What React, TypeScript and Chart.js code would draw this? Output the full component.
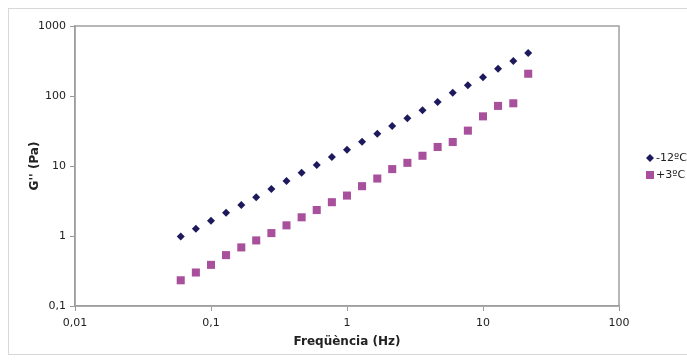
import React, { useEffect, useRef } from "react";
import { Chart, registerables } from "chart.js";

Chart.register(...registerables);

const frequencies = [
  0.0599, 0.0774, 0.1, 0.129, 0.167, 0.215, 0.278, 0.359, 0.464, 0.599, 0.774, 1,
  1.29, 1.67, 2.15, 2.78, 3.59, 4.64, 5.99, 7.74, 10, 12.9, 16.7, 21.5,
];
const seriesMinus12 = [
  0.98, 1.27, 1.65, 2.15, 2.78, 3.58, 4.71, 6.13, 7.98, 10.3, 13.4, 17.1,
  22.2, 28.9, 37.3, 48, 62.5, 82.4, 111, 143, 186, 245, 315, 410,
];
const seriesPlus3 = [
  0.233, 0.301, 0.387, 0.533, 0.687, 0.865, 1.1, 1.42, 1.85, 2.35, 3.04, 3.78,
  5.15, 6.62, 9.03, 11.1, 14.0, 18.7, 22.0, 32.0, 51.2, 72.2, 78.7, 208,
];
const seriesLabels = ["-12ºC", "+3ºC"];
const xTicks = [0.01, 0.1, 1, 10, 100];
const yTicks = [0.1, 1, 10, 100, 1000];

const fmt = (v: number) => String(v).replace(".", ",");

const FONT = "'DejaVu Sans', Verdana, sans-serif";
const NAVY = "#1c1a5c";
const MAGENTA = "#a9509c";

export default function App() {
  const ref = useRef<HTMLCanvasElement | null>(null);

  useEffect(() => {
    if (!ref.current) return;
    const framePlugin = {
      id: "frame",
      beforeDraw(chart: any) {
        const ctx = chart.ctx;
        ctx.save();
        ctx.fillStyle = "#ffffff";
        ctx.fillRect(0, 0, chart.width, chart.height);
        ctx.strokeStyle = "#d8d8d8";
        ctx.lineWidth = 1;
        ctx.strokeRect(8.5, 8.5, chart.width + 5, chart.height - 15);
        ctx.restore();
      },
      afterDraw(chart: any) {
        const { ctx, chartArea: a } = chart;
        ctx.save();
        ctx.strokeStyle = "#a0a0a0";
        ctx.lineWidth = 1.5;
        ctx.strokeRect(a.left, a.top, a.right - a.left, a.bottom - a.top);
        ctx.font = `11px ${FONT}`;
        ctx.textBaseline = "middle";
        // legend item 1: diamond
        let y = 158;
        ctx.fillStyle = NAVY;
        ctx.beginPath();
        ctx.moveTo(650, y - 4);
        ctx.lineTo(654, y);
        ctx.lineTo(650, y + 4);
        ctx.lineTo(646, y);
        ctx.closePath();
        ctx.fill();
        ctx.fillStyle = "#222";
        ctx.fillText(seriesLabels[0], 656, y);
        // legend item 2: square
        y = 175;
        ctx.fillStyle = MAGENTA;
        ctx.fillRect(646, y - 4, 8, 8);
        ctx.fillStyle = "#222";
        ctx.fillText(seriesLabels[1], 656, y);
        ctx.restore();
      },
    };

    const chart = new Chart(ref.current, {
      type: "scatter",
      data: {
        datasets: [
          {
            label: seriesLabels[0],
            data: frequencies.map((x, i) => ({ x, y: seriesMinus12[i] })),
            pointStyle: "rectRot",
            pointRadius: 4,
            backgroundColor: NAVY,
            borderColor: NAVY,
            borderWidth: 0,
          },
          {
            label: seriesLabels[1],
            data: frequencies.map((x, i) => ({ x, y: seriesPlus3[i] })),
            pointStyle: "rect",
            pointRadius: 5.7,
            backgroundColor: MAGENTA,
            borderColor: MAGENTA,
            borderWidth: 0,
          },
        ],
      },
      options: {
        animation: false,
        responsive: false,
        layout: { padding: { top: 26, right: 68, left: 0, bottom: 0 } },
        plugins: { legend: { display: false }, tooltip: { enabled: false } },
        scales: {
          x: {
            type: "logarithmic",
            min: 0.01,
            max: 100,
            afterBuildTicks: (s: any) => {
              s.ticks = xTicks.map((v) => ({ value: v }));
            },
            afterFit: (s: any) => {
              s.height = 55;
            },
            ticks: {
              callback: (v: any) => fmt(Number(v)),
              font: { family: FONT, size: 11 },
              color: "#222",
              padding: 6,
              maxRotation: 0,
              autoSkip: false,
            },
            grid: { drawOnChartArea: false, drawTicks: true, tickLength: 5, color: "#999" },
            border: { display: true, color: "#999", width: 1.5 },
            title: {
              display: true,
              text: "Freqüència (Hz)",
              font: { family: FONT, size: 12, weight: "bold" },
              color: "#222",
              padding: { top: 0, bottom: 12 },
            },
          },
          y: {
            type: "logarithmic",
            min: 0.1,
            max: 1000,
            afterBuildTicks: (s: any) => {
              s.ticks = yTicks.map((v) => ({ value: v }));
            },
            afterFit: (s: any) => {
              s.width = 75;
            },
            ticks: {
              callback: (v: any) => fmt(Number(v)),
              font: { family: FONT, size: 11 },
              color: "#222",
              padding: 4,
              autoSkip: false,
            },
            grid: { drawOnChartArea: false, drawTicks: true, tickLength: 5, color: "#999" },
            border: { display: true, color: "#999", width: 1.5 },
            title: {
              display: true,
              text: "G'' (Pa)",
              font: { family: FONT, size: 12, weight: "bold" },
              color: "#222",
              padding: { top: 28, bottom: 0 },
            },
          },
        },
      },
      plugins: [framePlugin],
    } as any);
    return () => chart.destroy();
  }, []);

  return (
    <div style={{ position: "fixed", left: 0, top: 0, width: 687, height: 361, background: "#fff" }}>
      <canvas ref={ref} width={687} height={361} style={{ display: "block", width: 687, height: 361 }} />
    </div>
  );
}
